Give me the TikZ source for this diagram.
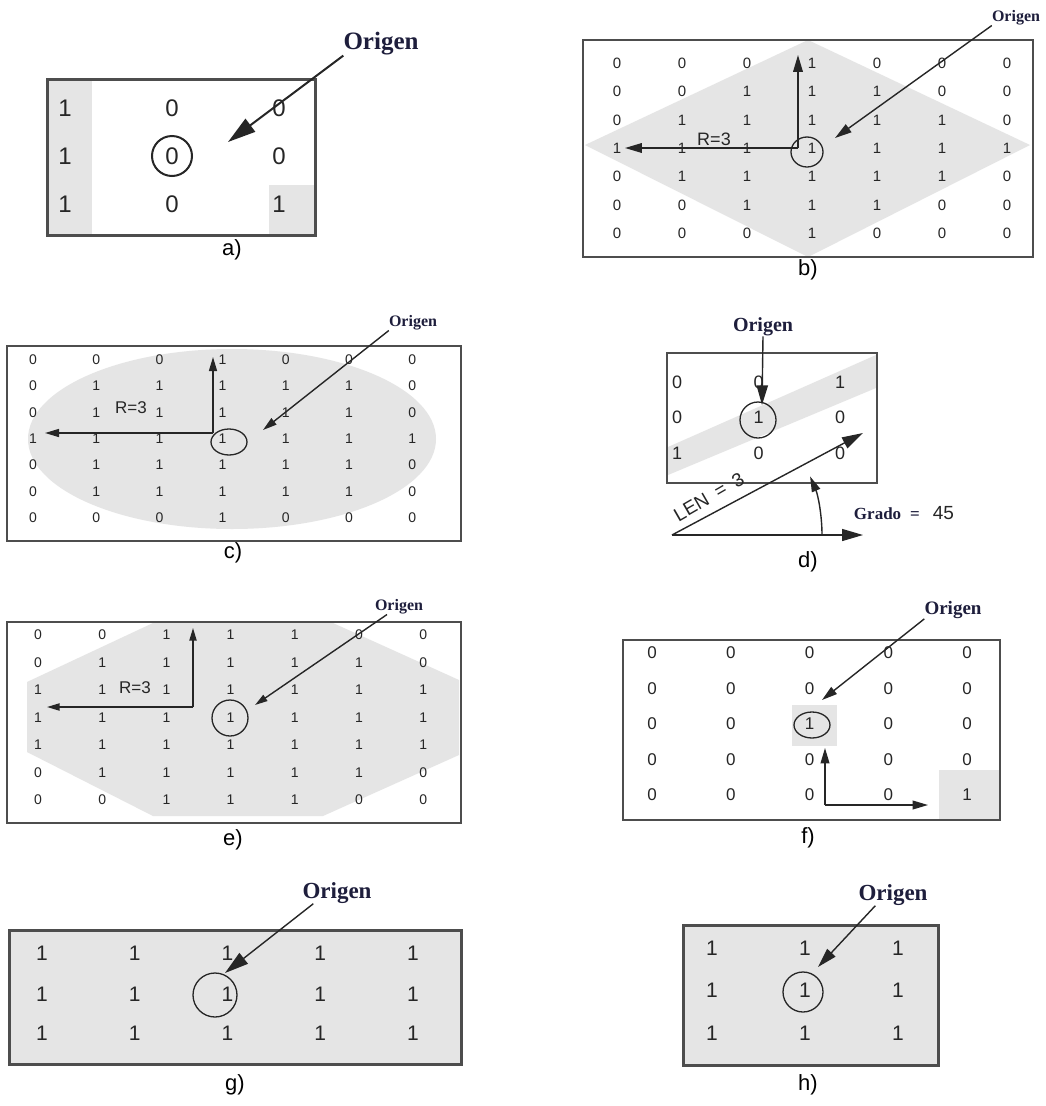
\documentclass[tikz,border=0pt]{standalone}
\usepackage{fontspec}
\setmainfont{Liberation Serif}
\setsansfont{Liberation Sans}
\usetikzlibrary{arrows.meta,shapes.geometric}

\definecolor{marco}{HTML}{4D4D4D}
\definecolor{sombra}{HTML}{E5E5E5}
\definecolor{tinta}{HTML}{1E1E3C}

\tikzset{
  num/.style={font=\sffamily\fontsize{#1}{#1}\selectfont, text=black!85, inner sep=0pt},
  origen/.style={font=\rmfamily\bfseries\fontsize{#1}{#1}\selectfont, text=tinta, inner sep=0pt},
  etiqueta/.style={font=\sffamily\fontsize{22}{22}\selectfont, inner sep=0pt},
  cuadro/.style={draw=marco, line width=#1},
  anillo/.style={circle, draw=black!85, line width=1.3pt, inner sep=0pt},
  flecha/.style={-{Triangle[length=14pt,width=8pt,scale=#1]}, draw=black!85, line width=1.4pt},
  flecha/.default=1
}

\begin{document}
\begin{tikzpicture}[x=1pt, y=-1pt]
    \fill[white] (0,0) rectangle (1046,1106);
    \useasboundingbox (0,0) rectangle (1046,1106);

    % a)
    \fill[sombra] (47,79) rectangle (92,235);
    \fill[sombra] (269,185) rectangle (315,235);
    \draw[cuadro=3pt] (47,79) rectangle (315,235);
    \foreach \v [count=\i] in {1,0,0} \node[num=24] (a1\i) at ({65+107*(\i-1)},108) {\v};
    \foreach \v [count=\i] in {1,0,0} \node[num=24] (a2\i) at ({65+107*(\i-1)},156) {\v};
    \foreach \v [count=\i] in {1,0,1} \node[num=24] (a3\i) at ({65+107*(\i-1)},204) {\v};
    \node[anillo, line width=2pt, minimum size=40pt] (ca) at (a22) {};
    \node[origen=25] (oa) at (381,44) {Origen};
    \coordinate (ta) at (228,142);
    \draw[flecha=2, line width=2pt] (oa.south west) -- (ta);
    \node[etiqueta] (la) at (232,250) {a)};

    % b)
    \fill[sombra] (808,40) -- (1030,145) -- (808,257) -- (585,145) -- cycle;
    \draw[cuadro=2pt] (583,40) rectangle (1033,257);
    \foreach \v [count=\i] in {0,0,0,1,0,0,0} \node[num=15] (b1\i) at ({617+65*(\i-1)},63) {\v};
    \foreach \v [count=\i] in {0,0,1,1,1,0,0} \node[num=15] (b2\i) at ({617+65*(\i-1)},91) {\v};
    \foreach \v [count=\i] in {0,1,1,1,1,1,0} \node[num=15] (b3\i) at ({617+65*(\i-1)},120) {\v};
    \foreach \v [count=\i] in {1,1,1,1,1,1,1} \node[num=15] (b4\i) at ({617+65*(\i-1)},148) {\v};
    \foreach \v [count=\i] in {0,1,1,1,1,1,0} \node[num=15] (b5\i) at ({617+65*(\i-1)},176) {\v};
    \foreach \v [count=\i] in {0,0,1,1,1,0,0} \node[num=15] (b6\i) at ({617+65*(\i-1)},205) {\v};
    \foreach \v [count=\i] in {0,0,0,1,0,0,0} \node[num=15] (b7\i) at ({617+65*(\i-1)},233) {\v};
    \node[num=18] (rb) at (714,139) {R=3};
    \coordinate (kb) at (798,148);
    \coordinate (nb) at (798,55);
    \coordinate (wb) at (625,148);
    \draw[flecha=1.2] (kb) -- (nb);
    \draw[flecha=1.2] (kb) -- (wb);
    \node[anillo, ellipse, minimum width=32pt, minimum height=30pt] (cb) at (807,152) {};
    \node[origen=16] (ob) at (1016,18) {Origen};
    \coordinate (tb) at (835,138);
    \draw[flecha=1.2] (ob.south west) -- (tb);
    \node[etiqueta] (lb) at (808,270) {b)};

    % c)
    \fill[sombra] (232,439) ellipse[x radius=204, y radius=90];
    \draw[cuadro=1.6pt] (7,346) rectangle (461,541);
    \foreach \v [count=\i] in {0,0,0,1,0,0,0} \node[num=14] (c1\i) at ({33+63.2*(\i-1)},360) {\v};
    \foreach \v [count=\i] in {0,1,1,1,1,1,0} \node[num=14] (c2\i) at ({33+63.2*(\i-1)},386) {\v};
    \foreach \v [count=\i] in {0,1,1,1,1,1,0} \node[num=14] (c3\i) at ({33+63.2*(\i-1)},413) {\v};
    \foreach \v [count=\i] in {1,1,1,1,1,1,1} \node[num=14] (c4\i) at ({33+63.2*(\i-1)},439) {\v};
    \foreach \v [count=\i] in {0,1,1,1,1,1,0} \node[num=14] (c5\i) at ({33+63.2*(\i-1)},465) {\v};
    \foreach \v [count=\i] in {0,1,1,1,1,1,0} \node[num=14] (c6\i) at ({33+63.2*(\i-1)},492) {\v};
    \foreach \v [count=\i] in {0,0,0,1,0,0,0} \node[num=14] (c7\i) at ({33+63.2*(\i-1)},518) {\v};
    \node[num=17] (rc) at (131,408) {R=3};
    \coordinate (kc) at (213,433);
    \coordinate (nc) at (213,357);
    \coordinate (wc) at (45,433);
    \draw[flecha] (kc) -- (nc);
    \draw[flecha] (kc) -- (wc);
    \node[anillo, ellipse, minimum width=36pt, minimum height=26pt] (cc) at (229,442) {};
    \node[origen=16] (oc) at (413,323) {Origen};
    \coordinate (tc) at (263,430);
    \draw[flecha] (oc.south west) -- (tc);
    \node[etiqueta] (lc) at (233,553) {c)};

    % d)
    \fill[sombra] (668,447) -- (876,355) -- (876,388) -- (668,475) -- cycle;
    \draw[cuadro=2.5pt] (667,353) rectangle (877,483);
    \foreach \v [count=\i] in {0,0,1} \node[num=18] (d1\i) at ({677+81.5*(\i-1)},382) {\v};
    \foreach \v [count=\i] in {0,1,0} \node[num=18] (d2\i) at ({677+81.5*(\i-1)},417) {\v};
    \foreach \v [count=\i] in {1,0,0} \node[num=18] (d3\i) at ({677+81.5*(\i-1)},453) {\v};
    \node[anillo, minimum size=36pt] (cd) at (758,420) {};
    \node[origen=20] (od) at (763,327) {Origen};
    \coordinate (td) at (762,405);
    \draw[flecha=1.4] (od.south) -- (td);
    \coordinate (vd) at (672,535);
    \coordinate (fd) at (863,433);
    \coordinate (hd) at (863,535);
    \draw[flecha=1.5] (vd) -- (fd);
    \draw[flecha=1.5] (vd) -- (hd);
    \draw[flecha=1.1] ([xshift=150pt]vd) arc[start angle=0, end angle=-23, radius=150];
    \node[num=19, rotate=30] (len) at (709,497) {LEN\enspace=\enspace3};
    \node[inner sep=0pt, text=tinta] (gd) at (904,513)
      {\bfseries\fontsize{17}{17}\selectfont Grado\hspace{9pt}=\hspace{13pt}{\sffamily\mdseries\fontsize{19}{19}\selectfont\color{black!85}45}};
    \node[etiqueta] (ld) at (808,562) {d)};

    % e)
    \fill[sombra] (153,623) -- (333,623) -- (459,680) -- (459,755) -- (323,816)
      -- (153,816) -- (27,752) -- (27,682) -- cycle;
    \draw[cuadro=2pt] (7,622) rectangle (461,823);
    \foreach \v [count=\i] in {0,0,1,1,1,0,0} \node[num=14] (e1\i) at ({38+64.2*(\i-1)},635) {\v};
    \foreach \v [count=\i] in {0,1,1,1,1,1,0} \node[num=14] (e2\i) at ({38+64.2*(\i-1)},663) {\v};
    \foreach \v [count=\i] in {1,1,1,1,1,1,1} \node[num=14] (e3\i) at ({38+64.2*(\i-1)},690) {\v};
    \foreach \v [count=\i] in {1,1,1,1,1,1,1} \node[num=14] (e4\i) at ({38+64.2*(\i-1)},718) {\v};
    \foreach \v [count=\i] in {1,1,1,1,1,1,1} \node[num=14] (e5\i) at ({38+64.2*(\i-1)},745) {\v};
    \foreach \v [count=\i] in {0,1,1,1,1,1,0} \node[num=14] (e6\i) at ({38+64.2*(\i-1)},773) {\v};
    \foreach \v [count=\i] in {0,0,1,1,1,0,0} \node[num=14] (e7\i) at ({38+64.2*(\i-1)},800) {\v};
    \node[num=17] (re) at (135,688) {R=3};
    \coordinate (ke) at (193,707);
    \coordinate (ne) at (193,628);
    \coordinate (we) at (47,707);
    \draw[flecha=0.9] (ke) -- (ne);
    \draw[flecha=0.9] (ke) -- (we);
    \node[anillo, minimum size=36pt] (ce) at (230,718) {};
    \node[origen=16] (oe) at (399,607) {Origen};
    \coordinate (te) at (255,705);
    \draw[flecha=0.9] ([xshift=-12pt]oe.south) -- (te);
    \node[etiqueta] (le) at (233,840) {e)};

    % f)
    \fill[sombra] (792,705) rectangle (837,746);
    \fill[sombra] (939,770) rectangle (1000,820);
    \draw[cuadro=2.5pt] (623,640) rectangle (1000,820);
    \foreach \v [count=\i] in {0,0,0,0,0} \node[num=17] (f1\i) at ({652+78.75*(\i-1)},653) {\v};
    \foreach \v [count=\i] in {0,0,0,0,0} \node[num=17] (f2\i) at ({652+78.75*(\i-1)},689) {\v};
    \foreach \v [count=\i] in {0,0,1,0,0} \node[num=17] (f3\i) at ({652+78.75*(\i-1)},724) {\v};
    \foreach \v [count=\i] in {0,0,0,0,0} \node[num=17] (f4\i) at ({652+78.75*(\i-1)},760) {\v};
    \foreach \v [count=\i] in {0,0,0,0,1} \node[num=17] (f5\i) at ({652+78.75*(\i-1)},795) {\v};
    \node[anillo, ellipse, minimum width=36pt, minimum height=26pt] (cf) at (812,725) {};
    \coordinate (kf) at (825,805);
    \coordinate (nf) at (825,748);
    \coordinate (ef) at (928,805);
    \draw[flecha=1.1] (kf) -- (nf);
    \draw[flecha=1.1] (kf) -- (ef);
    \node[origen=19] (of) at (953,610) {Origen};
    \coordinate (tf) at (822,700);
    \draw[flecha=1.1] (of.south west) -- (tf);
    \node[etiqueta] (lf) at (808,838) {f)};

    % g)
    \filldraw[fill=sombra, cuadro=3pt] (9,930) rectangle (461,1064);
    \foreach \v [count=\i] in {1,1,1,1,1} \node[num=21] (g1\i) at ({42+92.75*(\i-1)},953) {\v};
    \foreach \v [count=\i] in {1,1,1,1,1} \node[num=21] (g2\i) at ({42+92.75*(\i-1)},994) {\v};
    \foreach \v [count=\i] in {1,1,1,1,1} \node[num=21] (g3\i) at ({42+92.75*(\i-1)},1033) {\v};
    \node[anillo, minimum size=44pt] (cg) at (215,995) {};
    \node[origen=23] (og) at (337,893) {Origen};
    \coordinate (tg) at (225,973);
    \draw[flecha=1.7] ([xshift=11pt]og.south west) -- (tg);
    \node[etiqueta] (lg) at (235,1085) {g)};

    % h)
    \filldraw[fill=sombra, cuadro=3pt] (683,925) rectangle (938,1065);
    \foreach \v [count=\i] in {1,1,1} \node[num=21] (h1\i) at ({712+93*(\i-1)},948) {\v};
    \foreach \v [count=\i] in {1,1,1} \node[num=21] (h2\i) at ({712+93*(\i-1)},990) {\v};
    \foreach \v [count=\i] in {1,1,1} \node[num=21] (h3\i) at ({712+93*(\i-1)},1033) {\v};
    \node[anillo, minimum size=40pt] (ch) at (803,992) {};
    \node[origen=23] (oh) at (893,895) {Origen};
    \coordinate (th) at (818,967);
    \draw[flecha=1.4] ([xshift=17pt]oh.south west) -- (th);
    \node[etiqueta] (lh) at (808,1085) {h)};
\end{tikzpicture}
\end{document}
